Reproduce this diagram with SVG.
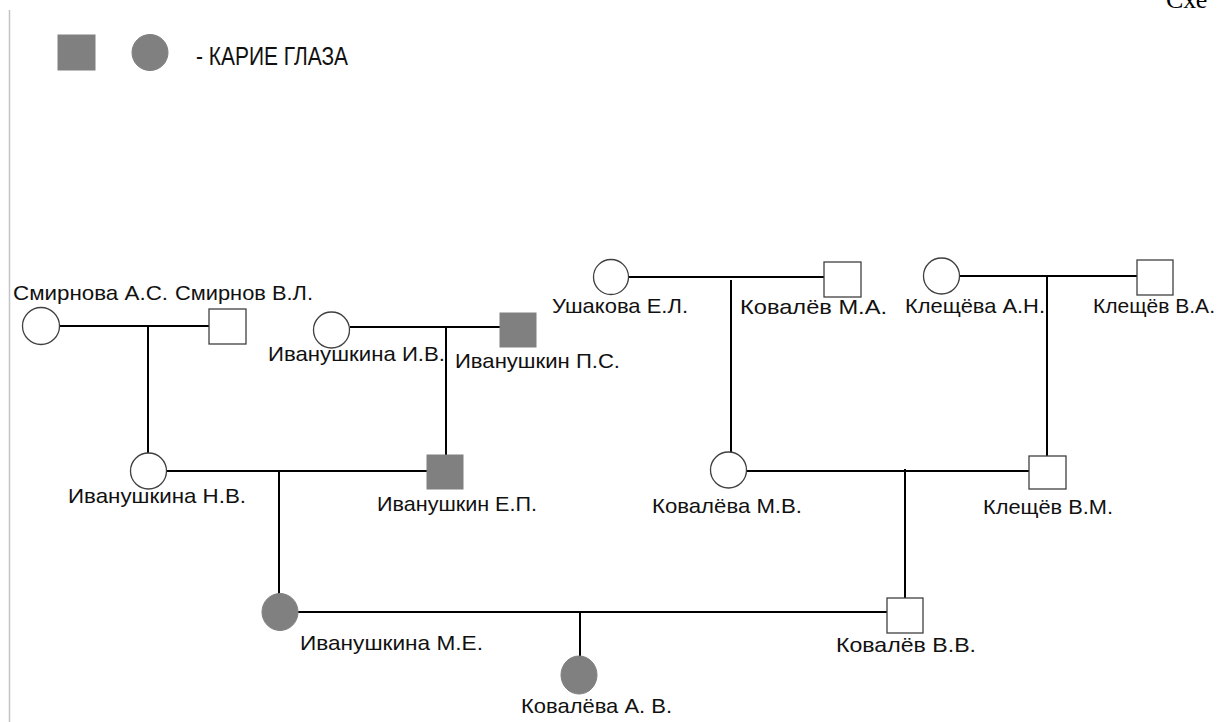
<svg xmlns="http://www.w3.org/2000/svg" width="1219" height="722" viewBox="0 0 1219 722">
<style>
.f{fill:#fff;stroke:#404040;stroke-width:1.3}
.b{fill:#808080;stroke:#808080;stroke-width:1}
.l{stroke:#000;stroke-width:2;fill:none}
text{font-family:"Liberation Sans",Arial,sans-serif;font-size:21px;fill:#111}
</style>
<rect width="1219" height="722" fill="#fff"/>
<line x1="9.5" y1="10" x2="9.5" y2="722" stroke="#c4c4c4" stroke-width="1.5"/>
<text x="1166" y="8" style="font-family:'Liberation Serif',serif;font-size:26px;fill:#000">Схе</text>
<g id="legend">
<rect x="58" y="35" width="37" height="35" class="b"/>
<circle cx="150" cy="52.5" r="18" class="b"/>
<text x="196" y="65" textLength="152" lengthAdjust="spacingAndGlyphs" style="font-size:25px">- КАРИЕ ГЛАЗА</text>
</g>
<g id="connectors">
<line class="l" x1="59" y1="326" x2="209" y2="326"/>
<line class="l" x1="148" y1="326" x2="148" y2="453"/>
<line class="l" x1="350" y1="327" x2="511" y2="327"/>
<line class="l" x1="446" y1="327" x2="446" y2="455"/>
<line class="l" x1="629" y1="277" x2="824" y2="277"/>
<line class="l" x1="731" y1="280" x2="731" y2="453"/>
<line class="l" x1="960" y1="276" x2="1137" y2="276"/>
<line class="l" x1="1047" y1="276" x2="1047" y2="456"/>
<line class="l" x1="167" y1="471" x2="428" y2="471"/>
<line class="l" x1="279" y1="471" x2="279" y2="596"/>
<line class="l" x1="747" y1="471" x2="1029" y2="471"/>
<line class="l" x1="905" y1="469" x2="905" y2="598"/>
<line class="l" x1="298" y1="612" x2="887" y2="612"/>
<line class="l" x1="580" y1="612" x2="580" y2="657"/>
</g>
<g id="smirnova_as"><circle cx="41" cy="326" r="18.5" class="f"/><text x="13" y="300" textLength="155" lengthAdjust="spacingAndGlyphs">Смирнова А.С.</text></g>
<g id="smirnov_vl"><rect x="209" y="309" width="37" height="35" class="f"/><text x="175" y="300" textLength="138" lengthAdjust="spacingAndGlyphs">Смирнов В.Л.</text></g>
<g id="ivanushkina_iv"><circle cx="331.5" cy="330" r="18" class="f"/><text x="268" y="361" textLength="177" lengthAdjust="spacingAndGlyphs">Иванушкина И.В.</text></g>
<g id="ivanushkin_ps"><rect x="500" y="313" width="36" height="34" class="b"/><text x="455" y="368" textLength="165" lengthAdjust="spacingAndGlyphs">Иванушкин П.С.</text></g>
<g id="ushakova_el"><circle cx="611" cy="277" r="17.5" class="f"/><text x="552" y="313" textLength="136" lengthAdjust="spacingAndGlyphs">Ушакова Е.Л.</text></g>
<g id="kovalev_ma"><rect x="824" y="262" width="37" height="35" class="f"/><text x="740" y="314" textLength="147" lengthAdjust="spacingAndGlyphs">Ковалёв М.А.</text></g>
<g id="kleshcheva_an"><circle cx="941.5" cy="276" r="18" class="f"/><text x="905" y="313" textLength="140" lengthAdjust="spacingAndGlyphs">Клещёва А.Н.</text></g>
<g id="kleshchev_va"><rect x="1137" y="260" width="36" height="35" class="f"/><text x="1093" y="313" textLength="122" lengthAdjust="spacingAndGlyphs">Клещёв В.А.</text></g>
<g id="ivanushkina_nv"><circle cx="148.5" cy="471" r="18" class="f"/><text x="68" y="503" textLength="178" lengthAdjust="spacingAndGlyphs">Иванушкина Н.В.</text></g>
<g id="ivanushkin_ep"><rect x="427" y="455" width="36" height="34" class="b"/><text x="377" y="511" textLength="160" lengthAdjust="spacingAndGlyphs">Иванушкин Е.П.</text></g>
<g id="kovaleva_mv"><circle cx="728.5" cy="470" r="18" class="f"/><text x="652" y="513" textLength="150" lengthAdjust="spacingAndGlyphs">Ковалёва М.В.</text></g>
<g id="kleshchev_vm"><rect x="1029" y="456" width="37" height="33" class="f"/><text x="983" y="514" textLength="130" lengthAdjust="spacingAndGlyphs">Клещёв В.М.</text></g>
<g id="ivanushkina_me"><ellipse cx="280" cy="612" rx="18" ry="18.5" class="b"/><text x="300" y="650" textLength="183" lengthAdjust="spacingAndGlyphs">Иванушкина М.Е.</text></g>
<g id="kovalev_vv"><rect x="887" y="598" width="36" height="35" class="f"/><text x="836" y="652" textLength="140" lengthAdjust="spacingAndGlyphs">Ковалёв В.В.</text></g>
<g id="kovaleva_av"><ellipse cx="579" cy="675" rx="18" ry="19" class="b"/><text x="521" y="713" textLength="151" lengthAdjust="spacingAndGlyphs">Ковалёва А. В.</text></g>
</svg>
